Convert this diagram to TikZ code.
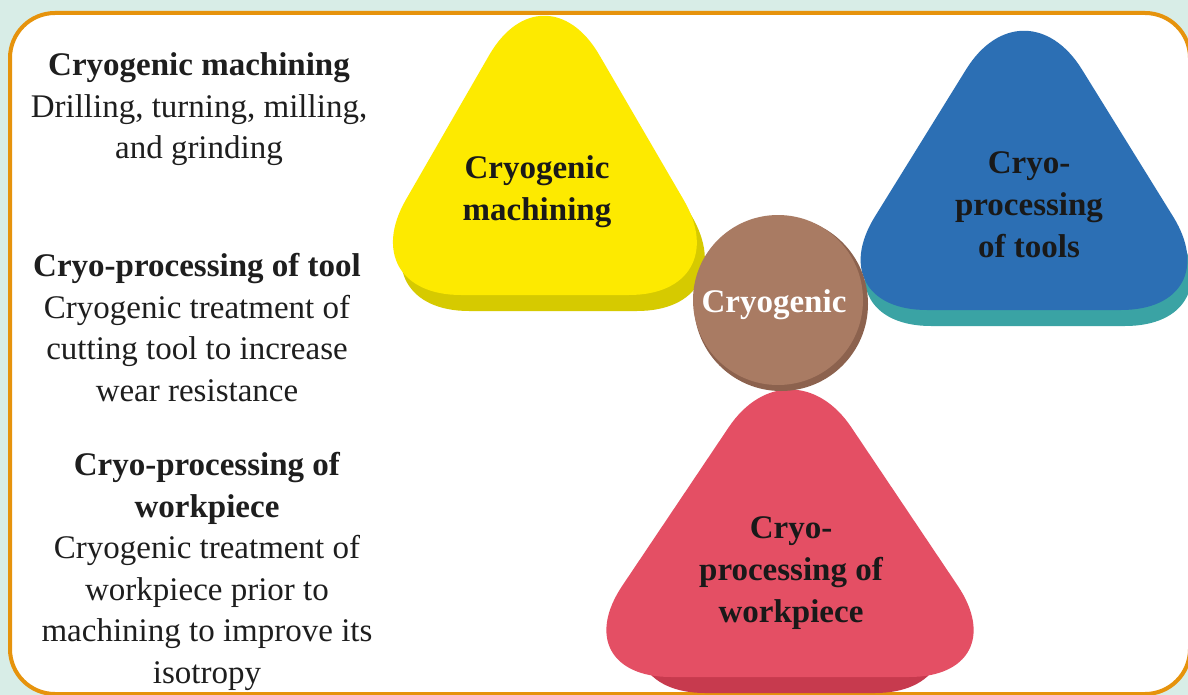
\documentclass[tikz,border=0pt]{standalone}
\usepackage{fontspec}
\setmainfont{Liberation Serif}
\definecolor{mint}{HTML}{D8EDE7}
\definecolor{framec}{HTML}{E6930C}
\definecolor{yface}{HTML}{FDEA00}
\definecolor{yshadow}{HTML}{D6CA00}
\definecolor{bface}{HTML}{2C6FB4}
\definecolor{bshadow}{HTML}{3AA3A4}
\definecolor{rface}{HTML}{E44F64}
\definecolor{rshadow}{HTML}{C73A4E}
\definecolor{cface}{HTML}{A97B63}
\definecolor{cshadow}{HTML}{8C624E}
\definecolor{txt}{HTML}{1E1E1E}
\tikzset{
  tri/.style={rounded corners=110pt},
  bigtext/.style={font=\fontsize{33}{41.5}\selectfont, align=center, inner sep=0pt, anchor=base, text=txt},
  shapetext/.style={font=\fontsize{33}{42}\selectfont\bfseries, align=center, inner sep=0pt, anchor=base, text=black!90},
}
\begin{document}
\begin{tikzpicture}[x=1pt,y=-1pt]
\useasboundingbox (0,0) rectangle (1188,695);
\fill[mint] (0,0) rectangle (1188,695);
\draw[framec, line width=4pt, fill=white, rounded corners=45pt] (10,13) rectangle (1190,694);

% yellow
\fill[yshadow, tri, shift={(8,16)}] (544,-40) -- (739,295) -- (351,295) -- cycle;
\fill[yface, tri] (544,-40) -- (739,295) -- (351,295) -- cycle;
% blue
\fill[bshadow, tri, shift={(4,16)}] (1024,-24) -- (1231,310) -- (817,310) -- cycle;
\fill[bface, tri] (1024,-24) -- (1231,310) -- (817,310) -- cycle;
% red
\fill[rshadow, tri] (790,362) -- (985,693) -- (595,693) -- cycle;
\fill[rface, tri] (790,336) -- (1019,677) -- (561,677) -- cycle;
% circle
\fill[cshadow] (781,304) circle (87pt);
\fill[cface] (778,300) circle (85pt);

\node[shapetext] (ym) at (537,220) {Cryogenic\\machining};
\node[shapetext] (bt) at (1029,257) {Cryo-\\processing\\of tools};
\node[shapetext] (rw) at (791,622) {Cryo-\\processing of\\workpiece};
\node[shapetext, text=white] (cc) at (774,312) {Cryogenic};

\node[bigtext] (t1) at (199,159) {\textbf{Cryogenic machining}\\Drilling, turning, milling,\\and grinding};
\node[bigtext] (t2) at (197,401) {\textbf{Cryo-processing of tool}\\Cryogenic treatment of\\cutting tool to increase\\wear resistance};
\node[bigtext] (t3) at (207,683) {\textbf{Cryo-processing of}\\\textbf{workpiece}\\Cryogenic treatment of\\workpiece prior to\\machining to improve its\\isotropy};
\end{tikzpicture}
\end{document}
